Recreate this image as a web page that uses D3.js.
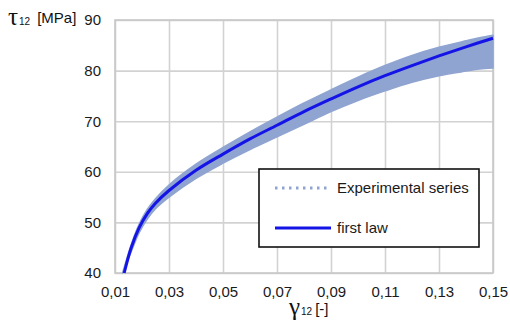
<!DOCTYPE html>
<html>
<head>
<meta charset="utf-8">
<script src="https://cdn.jsdelivr.net/npm/d3@7"></script>
<style>
  body { margin: 0; background: #fff; }
  svg { display: block; font-family: "Liberation Sans", Arial, sans-serif; }
</style>
</head>
<body>
<div id="chart"></div>
<script>
// first law curve (gamma12, tau12 MPa)
const lawGamma = [0.0134, 0.016, 0.019, 0.022, 0.025, 0.03, 0.04, 0.05, 0.06, 0.07, 0.08, 0.09, 0.10, 0.11, 0.12, 0.13, 0.14, 0.15];
const lawTau   = [40, 45.0, 49.0, 51.8, 53.8, 56.3, 60.3, 63.5, 66.5, 69.2, 71.9, 74.4, 76.8, 79.0, 81.0, 82.9, 84.7, 86.4];

// experimental series envelope (upper / lower edges of the scatter cloud)
const expGamma = [0.0128, 0.016, 0.019, 0.022, 0.025, 0.03, 0.04, 0.05, 0.06, 0.07, 0.08, 0.09, 0.10, 0.11, 0.12, 0.13, 0.14, 0.145, 0.15];
const expUpper = [40, 45.6, 49.7, 52.6, 54.7, 57.4, 61.5, 64.8, 67.9, 70.8, 73.6, 76.2, 78.7, 81.0, 83.0, 84.6, 85.9, 86.5, 87.0];
const expLower = [40, 44.2, 48.0, 50.7, 52.7, 55.0, 58.7, 61.7, 64.4, 66.9, 69.4, 71.9, 74.1, 76.0, 77.7, 79.0, 79.9, 80.3, 80.5];

const xTicks = [0.01, 0.03, 0.05, 0.07, 0.09, 0.11, 0.13, 0.15];
const yTicks = [40, 50, 60, 70, 80, 90];
const legendLabels = ["Experimental series", "first law"];

const W = 510, H = 329;
const margin = { top: 20, right: 17, bottom: 56, left: 115 };
const width = W - margin.left - margin.right;
const height = H - margin.top - margin.bottom;

const bandColor = "#8fa4d0";
const lawColor = "#1414e6";

const svg = d3.select("#chart").append("svg")
    .attr("width", W)
    .attr("height", H);

const x = d3.scaleLinear().domain([0.01, 0.15]).range([0, width]);
const y = d3.scaleLinear().domain([40, 90]).range([height, 0]);

const comma = d3.formatLocale({ decimal: ",", thousands: ".", grouping: [3], currency: ["", ""] });
const fmtX = comma.format(".2f");

const chart = svg.append("g")
    .attr("transform", `translate(${margin.left},${margin.top})`);

// grid
const xAxis = chart.append("g")
    .attr("transform", `translate(0,${height})`)
    .call(d3.axisBottom(x).tickValues(xTicks).tickSize(-height).tickPadding(13).tickFormat(fmtX));
const yAxis = chart.append("g")
    .call(d3.axisLeft(y).tickValues(yTicks).tickSize(-width).tickPadding(14).tickFormat(d3.format("d")));

[xAxis, yAxis].forEach(a => {
    a.select(".domain").remove();
    a.selectAll(".tick line").attr("stroke", "#d2d2d2").attr("stroke-width", 1.6);
    a.selectAll(".tick text")
        .attr("fill", "#1a1a1a")
        .style("font-size", "15px")
        .style("font-family", "'Liberation Sans', Arial, sans-serif");
});
xAxis.selectAll(".tick text").attr("dy", "0.71em");

// plot border
chart.append("rect")
    .attr("width", width)
    .attr("height", height)
    .attr("fill", "none")
    .attr("stroke", "#c8c8c8")
    .attr("stroke-width", 1.6);

// experimental band
const expData = expGamma.map((g, i) => ({ g, hi: expUpper[i], lo: expLower[i] }));
chart.append("path")
    .datum(expData)
    .attr("fill", bandColor)
    .attr("stroke", bandColor)
    .attr("stroke-width", 1.5)
    .attr("stroke-linejoin", "round")
    .attr("d", d3.area()
        .x(d => x(d.g))
        .y0(d => y(d.lo))
        .y1(d => y(d.hi))
        .curve(d3.curveCatmullRom.alpha(0.5)));

// first law
const lawData = lawGamma.map((g, i) => ({ g, t: lawTau[i] }));
chart.append("path")
    .datum(lawData)
    .attr("fill", "none")
    .attr("stroke", lawColor)
    .attr("stroke-width", 3)
    .attr("d", d3.line()
        .x(d => x(d.g))
        .y(d => y(d.t))
        .curve(d3.curveCatmullRom.alpha(0.5)));

// legend
const legend = svg.append("g").attr("transform", "translate(259,169)");
legend.append("rect")
    .attr("width", 220)
    .attr("height", 78)
    .attr("fill", "#fff")
    .attr("stroke", "#111")
    .attr("stroke-width", 1.6);

legend.append("line")
    .attr("x1", 16).attr("x2", 72).attr("y1", 19).attr("y2", 19)
    .attr("stroke", bandColor)
    .attr("stroke-width", 3)
    .attr("stroke-dasharray", "2.5,4.5");
legend.append("line")
    .attr("x1", 16).attr("x2", 72).attr("y1", 59).attr("y2", 59)
    .attr("stroke", lawColor)
    .attr("stroke-width", 3);

legend.selectAll("text.lbl")
    .data(legendLabels)
    .enter().append("text")
    .attr("class", "lbl")
    .attr("x", 78)
    .attr("y", (d, i) => 19 + i * 40)
    .attr("dy", "0.35em")
    .style("font-size", "15px")
    .attr("fill", "#1a1a1a")
    .text(d => d);

// y axis title
const yTitle = svg.append("text")
    .attr("x", 8)
    .attr("y", 25)
    .attr("fill", "#111");
yTitle.append("tspan")
    .style("font-family", "'Liberation Serif', 'DejaVu Serif', serif")
    .style("font-size", "25px")
    .text("τ");
yTitle.append("tspan")
    .style("font-size", "10px")
    .attr("dx", 1)
    .text("12");
yTitle.append("tspan")
    .style("font-size", "15px")
    .attr("dx", 7)
    .attr("dy", -2)
    .text("[MPa]");

// x axis title
const xTitle = svg.append("text")
    .attr("x", 289)
    .attr("y", 315)
    .attr("fill", "#111");
xTitle.append("tspan")
    .style("font-family", "'Liberation Serif', 'DejaVu Serif', serif")
    .style("font-size", "25px")
    .text("γ");
xTitle.append("tspan")
    .style("font-size", "10px")
    .attr("dx", 1)
    .text("12");
xTitle.append("tspan")
    .style("font-size", "15px")
    .attr("dx", 3)
    .attr("dy", -1)
    .text("[-]");
</script>
</body>
</html>
